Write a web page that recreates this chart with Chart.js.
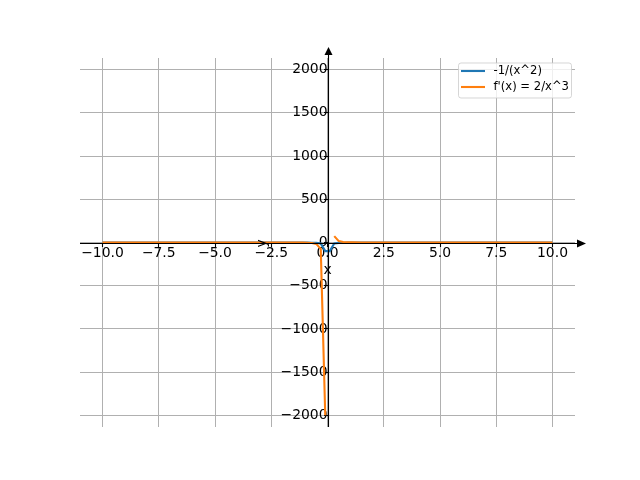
<!DOCTYPE html>
<html><head><meta charset="utf-8">
<script src="https://cdn.jsdelivr.net/npm/chart.js@4/dist/chart.umd.min.js"></script>
<style>html,body{margin:0;padding:0;background:#fff}#wrap{width:640px;height:480px}</style>
</head><body><div id="wrap"><canvas id="c" width="640" height="480"></canvas></div>
<script>
// ---- data ----
const xValues = [-10, -8, -6, -4, -3, -2, -1.5, -1.1, -0.9, -0.7, -0.5, -0.3, -0.1, 0.1, 0.3, 0.5, 0.7, 0.9, 1.1, 1.5, 2, 3, 4, 6, 8, 10];
const seriesNegInvSq = [-0.01, -0.016, -0.028, -0.0625, -0.111, -0.25, -0.444, -0.826, -1.23, -2.04, -4, -11.1, -100, -100, -11.1, -4, -2.04, -1.23, -0.826, -0.444, -0.25, -0.111, -0.0625, -0.028, -0.016, -0.01];
const seriesDeriv = [-0.002, -0.0039, -0.0093, -0.031, -0.074, -0.25, -0.59, -1.5, -2.74, -5.83, -16, -74.1, -2000, null, 74.1, 16, 5.83, 2.74, 1.5, 0.59, 0.25, 0.074, 0.031, 0.0093, 0.0039, 0.002];
const seriesNames = ['-1/(x^2)', "f'(x) = 2/x^3"];
const seriesColors = ['#1f77b4', '#ff7f0e'];
const xTicks = [-10, -7.5, -5, -2.5, 0, 2.5, 5, 7.5, 10];
const xTickLabels = ['\u221210.0', '\u22127.5', '\u22125.0', '\u22122.5', '0.0', '2.5', '5.0', '7.5', '10.0'];
const yTicks = [-2000, -1500, -1000, -500, 0, 500, 1000, 1500, 2000];
const yTickLabels = ['\u22122000', '\u22121500', '\u22121000', '\u2212500', '0', '500', '1000', '1500', '2000'];
const xLimits = [-11, 11];
const yLimits = [-2135, 2135];
const axisLabels = ['x', 'y'];

const FONT = "'DejaVu Sans', sans-serif";

function pts(ys) { return xValues.map((x, i) => ({x: x, y: ys[i]})); }

const mplAxes = {
  id: 'mplAxes',
  afterDatasetsDraw(chart) {
    const ctx = chart.ctx, a = chart.chartArea;
    const xs = chart.scales.x, ys = chart.scales.y;
    const x0 = Math.round(xs.getPixelForValue(0)) + 0.5;
    const y0 = Math.round(ys.getPixelForValue(0)) + 0.5;
    ctx.save();
    ctx.strokeStyle = '#000'; ctx.fillStyle = '#000'; ctx.lineWidth = 1.1;
    // spines
    ctx.beginPath(); ctx.moveTo(a.left, y0); ctx.lineTo(a.right + 6, y0); ctx.stroke();
    ctx.beginPath(); ctx.moveTo(x0, a.bottom); ctx.lineTo(x0, a.top - 5); ctx.stroke();
    // arrows
    ctx.beginPath(); ctx.moveTo(a.right + 11, y0); ctx.lineTo(a.right + 2, y0 - 4); ctx.lineTo(a.right + 2, y0 + 4); ctx.closePath(); ctx.fill();
    ctx.beginPath(); ctx.moveTo(x0, a.top - 11); ctx.lineTo(x0 - 4, a.top - 3); ctx.lineTo(x0 + 4, a.top - 3); ctx.closePath(); ctx.fill();
    // axis labels
    ctx.font = '13.9px ' + FONT;
    ctx.textAlign = 'center'; ctx.textBaseline = 'middle';
    ctx.fillText(axisLabels[0], (a.left + a.right) / 2, y0 + 27);
    ctx.save();
    ctx.translate(x0 - 66, (a.top + a.bottom) / 2 + 1);
    ctx.rotate(-Math.PI / 2);
    ctx.fillText(axisLabels[1], 0, 0);
    ctx.restore();
    // legend
    ctx.font = '11.6px ' + FONT;
    const tw = Math.max(...seriesNames.map(s => ctx.measureText(s).width));
    const pad = 2.5, handle = 24, gap = 8.5, rowH = 16;
    const w = pad + handle + gap + tw + pad;
    const h = 35;
    const bx = a.right - 3.5 - w, by = a.top + 5;
    ctx.beginPath();
    if (ctx.roundRect) ctx.roundRect(bx, by, w, h, 2.5); else ctx.rect(bx, by, w, h);
    ctx.fillStyle = 'rgba(255,255,255,0.8)'; ctx.fill();
    ctx.strokeStyle = 'rgba(204,204,204,0.8)'; ctx.lineWidth = 1; ctx.stroke();
    ctx.textAlign = 'left'; ctx.textBaseline = 'middle';
    seriesNames.forEach((s, i) => {
      const cy = by + 8 + i * rowH;
      ctx.strokeStyle = seriesColors[i]; ctx.lineWidth = 2.1;
      ctx.beginPath(); ctx.moveTo(bx + pad, cy); ctx.lineTo(bx + pad + handle, cy); ctx.stroke();
      ctx.fillStyle = '#000';
      ctx.fillText(s, bx + pad + handle + gap, cy);
    });
    ctx.restore();
  }
};

new Chart(document.getElementById('c'), {
  type: 'scatter',
  data: {
    datasets: [
      {label: seriesNames[0], data: pts(seriesNegInvSq), showLine: true, borderColor: seriesColors[0], backgroundColor: seriesColors[0], borderWidth: 2.1, pointRadius: 0, order: 1, spanGaps: false},
      {label: seriesNames[1], data: pts(seriesDeriv), showLine: true, borderColor: seriesColors[1], backgroundColor: seriesColors[1], borderWidth: 2.1, pointRadius: 0, order: 0, spanGaps: false}
    ]
  },
  options: {
    responsive: false, animation: false, devicePixelRatio: 1,
    layout: {padding: {left: 80, right: 65, top: 58, bottom: 53}},
    plugins: {legend: {display: false}, tooltip: {enabled: false}},
    scales: {
      x: {
        type: 'linear', min: xLimits[0], max: xLimits[1], position: {y: 0},
        afterBuildTicks: s => { s.ticks = xTicks.map(v => ({value: v})); },
        grid: {color: '#b0b0b0', lineWidth: 1, drawTicks: true, tickLength: 4, tickColor: '#000', tickWidth: 1.1},
        border: {display: false},
        ticks: {autoSkip: false, maxRotation: 0, padding: -1, color: '#000', font: {family: FONT, size: 13.9},
          callback: v => xTickLabels[xTicks.indexOf(v)]}
      },
      y: {
        type: 'linear', min: yLimits[0], max: yLimits[1], position: {x: 0},
        afterBuildTicks: s => { s.ticks = yTicks.map(v => ({value: v})); },
        grid: {color: '#b0b0b0', lineWidth: 1, drawTicks: true, tickLength: 4, tickColor: '#000', tickWidth: 1.1},
        border: {display: false},
        ticks: {autoSkip: false, padding: 5, color: '#000', font: {family: FONT, size: 13.9},
          callback: v => yTickLabels[yTicks.indexOf(v)]}
      }
    }
  },
  plugins: [mplAxes]
});
</script></body></html>
